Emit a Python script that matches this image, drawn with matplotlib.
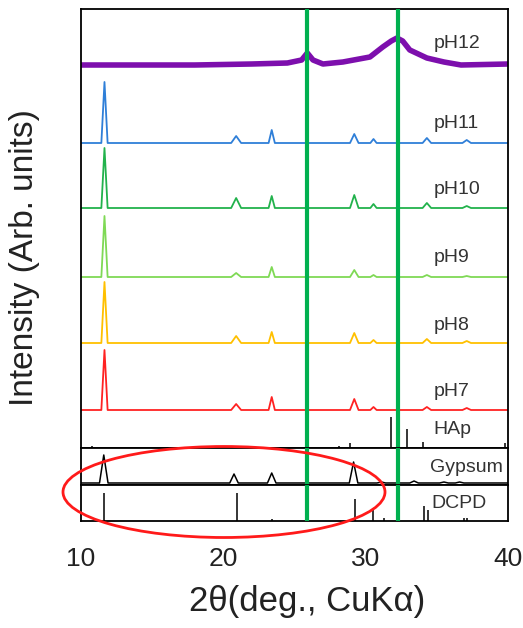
import matplotlib
matplotlib.use("Agg")
import matplotlib.pyplot as plt
from matplotlib.patches import Ellipse

plt.rcParams['font.family'] = ['Liberation Sans', 'DejaVu Sans']

# --- data (intensities in arbitrary units) ---
SAMPLES = ['pH7', 'pH8', 'pH9', 'pH10', 'pH11']
PEAK_POS = [11.65, 20.9, 23.4, 29.2, 30.55, 34.3, 37.1]
PEAK_HALFWIDTH = [0.22, 0.35, 0.22, 0.3, 0.22, 0.3, 0.3]
PH7 = [60, 6, 13, 11, 3, 3, 2]
PH8 = [61, 7, 11, 10, 3, 4, 2]
PH9 = [61, 4, 10, 7, 2, 2, 1]
PH10 = [60, 10, 12, 13, 4, 5, 2]
PH11 = [61, 7, 13, 9, 4, 5, 3]

# pH12 is amorphous-ish: broad hump read as points
PH12_X = [10, 14, 18, 22, 24.5, 25.5, 25.9, 26.3, 27, 28.4, 30.3, 31.2,
          31.8, 32.2, 32.6, 33.1, 34.3, 35.5, 36.7, 40]
PH12_Y = [0, 0, 0, 1, 2, 5, 12, 5, 1, 3, 8, 18, 24, 27, 24, 15, 7, 3, 0, 1]

HAP_POS = [10.8, 21.8, 22.9, 25.9, 28.1, 28.9, 31.8, 32.2, 32.9, 34.0, 39.8]
HAP_H = [2, 1, 1, 11, 2, 5, 31, 16, 19, 6, 5]

GYP_POS = [11.6, 20.75, 23.4, 29.15, 31.1, 33.4, 35.5, 36.6]
GYP_H = [28, 9, 10, 21, 1, 2, 1, 1]

DCPD_POS = [11.6, 20.95, 23.4, 29.25, 30.5, 31.3, 34.1, 34.4, 36.9, 37.1]
DCPD_H = [28, 28, 2, 22, 13, 3, 15, 11, 3, 3]

GREEN_LINES = [25.9, 32.25]
XTICKS = [10, 20, 30, 40]

# --- layout / style ---
OFFSETS = [38, 105, 171, 240, 305]
PH12_OFFSET = 383
COLORS = ['#ff2222', '#ffc000', '#7fd955', '#22b24c', '#2f7fd8']
PH12_COLOR = '#7d0fad'
LABEL_Y = [57, 123, 191, 258, 324]
LABEL_SIZE = 14


def profile(pos, heights, halfw):
    xs, ys = [10], [0]
    for p, h, w in sorted(zip(pos, heights, halfw)):
        xs += [p - w, p, p + w]
        ys += [0, h, 0]
    xs.append(40)
    ys.append(0)
    return xs, ys


fig = plt.figure(figsize=(5.23, 6.28), dpi=100)
L, R = 81 / 523, 508 / 523
H = 628
ax = fig.add_axes([L, 1 - 448 / H, R - L, (448 - 9) / H])
ax_g = fig.add_axes([L, 1 - 485 / H, R - L, 37 / H])
ax_d = fig.add_axes([L, 1 - 521 / H, R - L, 36 / H])

for a in (ax, ax_g, ax_d):
    a.set_xlim(10, 40)
    a.set_yticks([])
    for s in a.spines.values():
        s.set_linewidth(1.3)
    a.tick_params(length=0)
    for g in GREEN_LINES:
        a.axvline(g, color='#00b04f', lw=3, zorder=5)

ax.set_ylim(0, 439)
ax_g.set_ylim(0, 37)
ax_d.set_ylim(0, 36)
ax.set_xticks([])
ax_g.set_xticks([])

series = [PH7, PH8, PH9, PH10, PH11]
for name, vals, off, col, ly in zip(SAMPLES, series, OFFSETS, COLORS, LABEL_Y):
    xs, ys = profile(PEAK_POS, vals, PEAK_HALFWIDTH)
    ax.plot(xs, [y + off for y in ys], color=col, lw=1.3)
    ax.text(34.75, ly, name, fontsize=LABEL_SIZE, color='#333333', va='center')

ax.plot(PH12_X, [y + PH12_OFFSET for y in PH12_Y], color=PH12_COLOR, lw=4,
        solid_joinstyle='round')
ax.text(34.75, 405, 'pH12', fontsize=LABEL_SIZE, color='#333333', va='center')

ax.vlines(HAP_POS, 0, HAP_H, color='black', lw=1.1)
ax.text(34.75, 18, 'HAp', fontsize=LABEL_SIZE, color='#333333', va='center')

gx, gy = profile(GYP_POS, GYP_H, [0.3] * len(GYP_POS))
ax_g.plot(gx, [y + 2 for y in gy], color='black', lw=1.1)
ax_g.text(34.55, 18, 'Gypsum', fontsize=LABEL_SIZE, color='#333333', va='center')

ax_d.vlines(DCPD_POS, 0, DCPD_H, color='black', lw=1.1)
ax_d.text(34.65, 18, 'DCPD', fontsize=LABEL_SIZE, color='#333333', va='center')

ax_d.set_xticks(XTICKS)
ax_d.tick_params(axis='x', labelsize=19, pad=19, labelcolor='#222222')

fig.text(25 / 523, 1 - 258 / H, 'Intensity (Arb. units)', rotation=90,
         fontsize=24, color='#222222', ha='center', va='center')
fig.text(307 / 523, 1 - 602 / H, '2θ(deg., CuKα)', fontsize=25,
         color='#222222', ha='center', va='center')

fig.add_artist(Ellipse((224 / 523, 1 - 492 / H), 322 / 523, 91 / H,
                       transform=fig.transFigure, fill=False,
                       edgecolor='#ff1a1a', lw=2, zorder=10))

fig.savefig('out.png', dpi=100)
